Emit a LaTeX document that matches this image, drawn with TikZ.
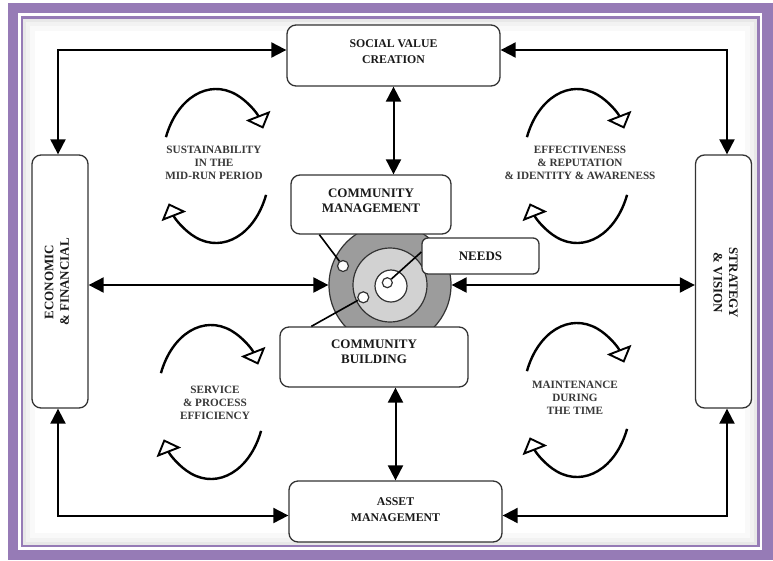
\documentclass[tikz,border=0pt]{standalone}
\usepackage{fontspec}
\setmainfont{Liberation Serif}
\usetikzlibrary{arrows.meta}
\definecolor{frameviolet}{HTML}{967BB6}
\definecolor{ringdark}{HTML}{9C9C9C}
\definecolor{ringlight}{HTML}{D2D2D2}
\definecolor{boxline}{HTML}{333333}
\definecolor{labelgray}{HTML}{383838}
% one circular pair of arcs around a centre #1
\newcommand\cycloop[1]{%
  \draw[cyc] (#1) ++(202:54 and 77) arc[start angle=202,end angle=331,x radius=54,y radius=77];
  \draw[cyc] (#1) ++(22:54 and 77) arc[start angle=22,end angle=151,x radius=54,y radius=77];
}
\begin{document}
\begin{tikzpicture}[x=1pt,y=-1pt,
  box/.style={draw=boxline,line width=1.3pt,rounded corners=9pt,fill=white,inner sep=0pt},
  boxtext/.style={align=center,text=black!90,font=\bfseries\fontsize{13}{15.5}\selectfont},
  smalltext/.style={align=center,text=black!90,font=\bfseries\fontsize{11.8}{16}\selectfont},
  cyclbl/.style={align=center,text=labelgray,font=\bfseries\fontsize{11.2}{13}\selectfont},
  link/.style={line width=2pt,{Triangle[length=15pt,width=15pt]}-{Triangle[length=15pt,width=15pt]}},
  cyc/.style={line width=2.4pt,-{Triangle[open,length=14pt,width=26pt,line width=1.9pt]}},
  pointer/.style={line width=1.6pt,black},
  disc/.style={circle,draw=boxline,line width=1.2pt,inner sep=0pt}
]
\useasboundingbox (0,0) rectangle (773,560);

% frame
\fill[white] (0,0) rectangle (773,560);
\fill[frameviolet] (8,3) rectangle (773,560);
\fill[white] (18,13) rectangle (762,550);
\fill[frameviolet] (21,16) rectangle (760,547);
\fill[white] (23,19) rectangle (757,545);
\draw[black!9,line width=3pt] (24.5,20.5) rectangle (755.5,543.5);
\draw[black!5,line width=4pt] (28,24) rectangle (752,540);
\draw[black!2.5,line width=5pt] (32.5,28.5) rectangle (747.5,535.5);

% concentric rings in the centre
\node[disc,fill=ringdark,minimum size=122pt] (ring) at (390,285) {};
\node[disc,fill=ringlight,minimum size=74pt] (midring) at (390,285) {};
\node[disc,fill=white,minimum size=32pt] (core) at (391,286) {};
\node[disc,fill=white,minimum size=10pt] (coredot) at (387.3,282.7) {};
\node[disc,fill=white,minimum size=11pt] (dotA) at (343,266) {};
\node[disc,fill=white,minimum size=11pt] (dotB) at (363.3,297.3) {};

% boxes
\node[box,minimum width=213pt,minimum height=61pt] (social) at (393.5,55.5) {};
\node[smalltext] (socialtext) at (393.5,52) {SOCIAL VALUE\\CREATION};
\node[box,minimum width=213pt,minimum height=61pt] (asset) at (395.5,511.5) {};
\node[smalltext] (assettext) at (395.5,510) {ASSET\\MANAGEMENT};
\node[box,minimum width=160pt,minimum height=59pt] (cm) at (371,204.5) {};
\node[boxtext] (cmtext) at (371,201) {COMMUNITY\\MANAGEMENT};
\node[box,minimum width=188pt,minimum height=60pt] (cb) at (374,357) {};
\node[boxtext] (cbtext) at (374,352) {COMMUNITY\\BUILDING};
\node[box,rounded corners=6pt,minimum width=117pt,minimum height=36pt] (needs) at (480.5,256) {};
\node[boxtext] (needstext) at (480.5,256) {NEEDS};
\node[box,minimum width=56pt,minimum height=253pt] (econ) at (60,281.5) {};
\node[boxtext,rotate=90] (econtext) at (57,282) {ECONOMIC\\\& FINANCIAL};
\node[box,minimum width=56pt,minimum height=253pt] (strat) at (723.5,281.5) {};
\node[boxtext,rotate=-90] (strattext) at (725.5,283) {STRATEGY\\\& VISION};

% pointers from the boxes to the rings
\draw[pointer] ([xshift=29pt]cm.south west) -- (dotA);
\draw[pointer] (dotB) -- ([xshift=32pt]cb.north west);
\draw[pointer] (coredot) -- ([yshift=4pt]needs.west);

% connectors
\draw[link] ([yshift=5.5pt]social.west) -| ([xshift=-2pt]econ.north);
\draw[link] ([yshift=5.5pt]social.east) -| ([xshift=3.5pt]strat.north);
\draw[link] ([yshift=-4pt]asset.west) -| ([xshift=-2pt]econ.south);
\draw[link] ([yshift=-4pt]asset.east) -| ([xshift=3.5pt]strat.south);
\draw[link] (social.south) -- (social.south |- cm.north);
\draw[link] (asset.north) -- (asset.north |- cb.south);
\draw[link] (ring.west) -- (ring.west -| econ.east);
\draw[link] (ring.east) -- (ring.east -| strat.west);

% cycle labels and their circular arrows
\node[cyclbl] (sust) at (214,163) {SUSTAINABILITY\\IN THE\\MID-RUN PERIOD};
\node[cyclbl] (effect) at (580,163) {EFFECTIVENESS\\\& REPUTATION\\\& IDENTITY \& AWARENESS};
\node[cyclbl] (service) at (215,403) {SERVICE\\\& PROCESS\\EFFICIENCY};
\node[cyclbl] (maint) at (575,398) {MAINTENANCE\\DURING\\THE TIME};
\cycloop{216,166}
\cycloop{577,166}
\cycloop{211,402}
\cycloop{577,400}
\end{tikzpicture}
\end{document}
